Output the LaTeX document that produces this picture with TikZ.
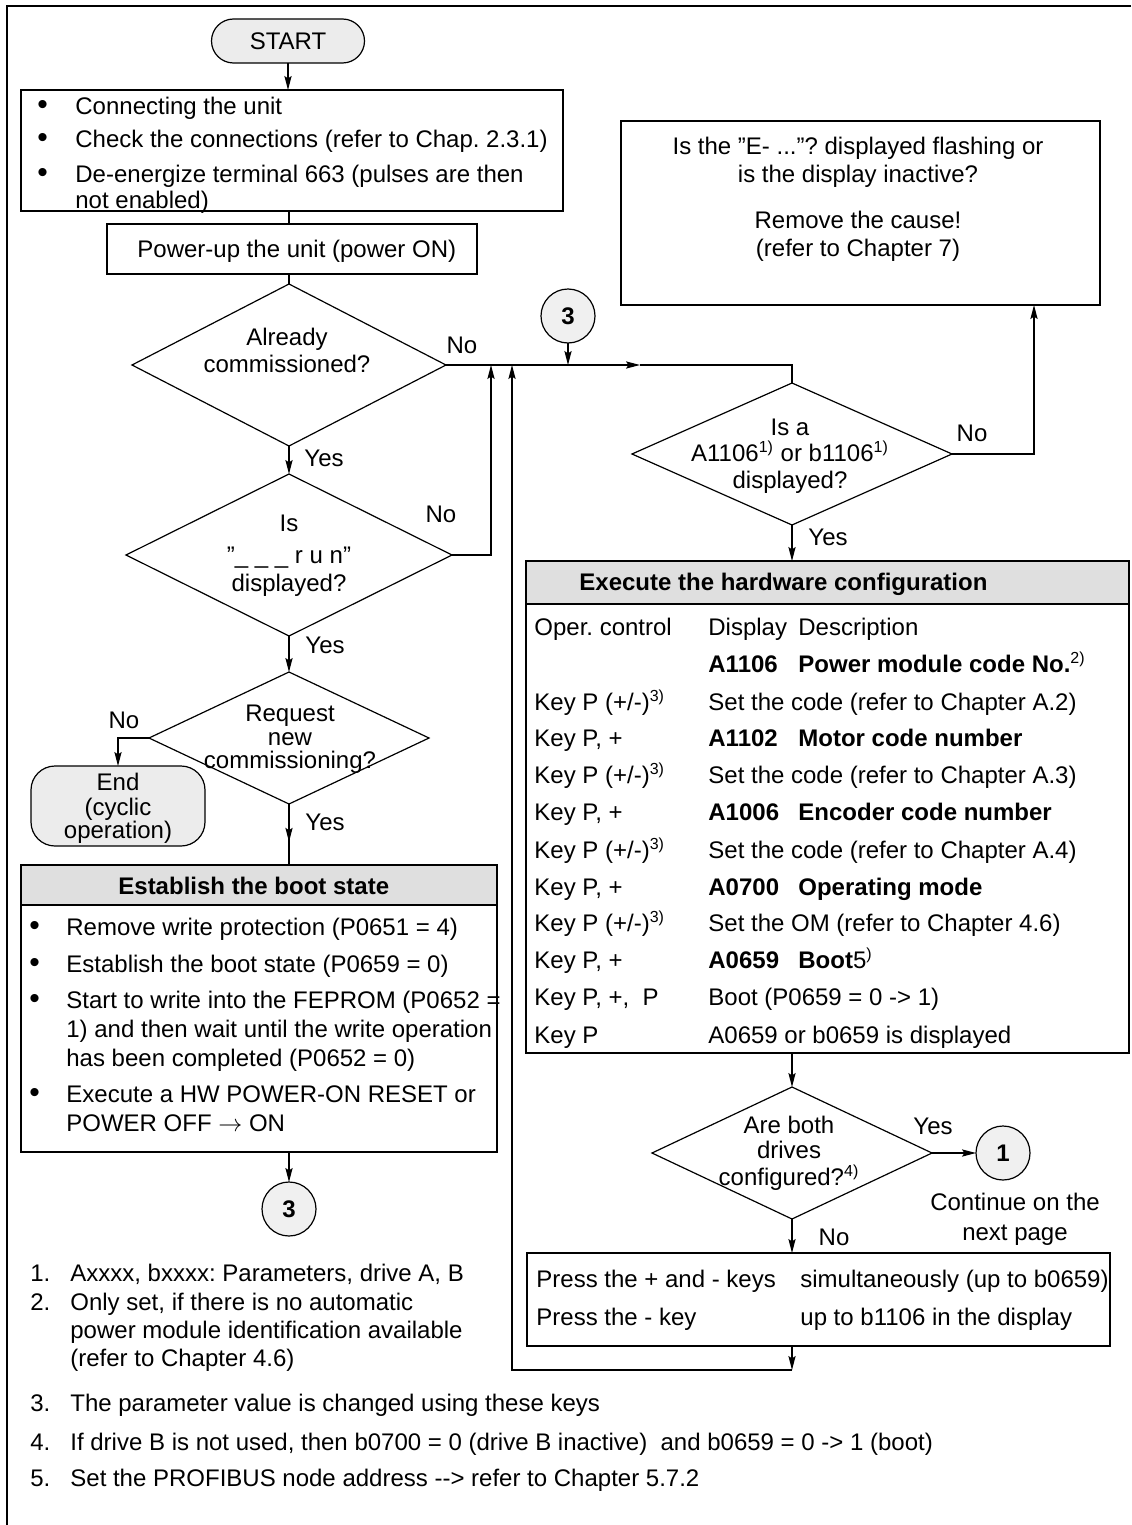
\documentclass[tikz,border=0pt]{standalone}
\usepackage{fontspec}
\setmainfont{Liberation Sans}
\usetikzlibrary{arrows.meta,shapes.geometric,decorations.markings}
\frenchspacing
\newcommand{\bul}{{\fontsize{15}{15}\selectfont\textbullet}}
\begin{document}
\begin{tikzpicture}[x=0.5pt,y=-0.5pt,
  every node/.style={font=\fontsize{12}{14}\selectfont},
  tip/.tip={Stealth[length=7pt,width=3.6pt,inset=1.2pt]},
  line/.style={line width=0.6pt},
  arr/.style={line width=0.6pt,-tip},
  arrowat/.style={line width=0.6pt,postaction={decorate},decoration={markings,mark=at position #1 with {\arrow{tip}}}},
  box/.style={draw,line width=0.6pt,rectangle,inner sep=0,outer sep=0},
  dia/.style={draw,line width=0.6pt,diamond,inner sep=0,outer sep=0},
  term/.style={draw,line width=0.6pt,rounded corners=11pt,fill=gray!15,inner sep=0,outer sep=0},
  circ/.style={draw,line width=0.6pt,circle,fill=gray!12,minimum size=27pt,inner sep=0,outer sep=0,font=\fontsize{12}{14}\selectfont\bfseries},
  lt/.style={inner sep=0,anchor=base west,yshift=-4pt},
  lc/.style={inner sep=0,anchor=base,yshift=-4pt}
]
\useasboundingbox (0,0) rectangle (1131,1525);
\draw[line width=1pt] (1131,6) -- (7,6) -- (7,1525);

% ---------- shapes ----------
\node[term,minimum width=76.5pt,minimum height=22pt] (start) at (288,41) {START};
\node[box,minimum width=271pt,minimum height=60.5pt] (box1) at (292,150.5) {};
\node[box,minimum width=185pt,minimum height=25pt] (box2) at (292,249) {};
\node[dia,minimum width=157pt,minimum height=81pt] (d1) at (289,365) {};
\node[dia,minimum width=163pt,minimum height=81pt] (run) at (289,555) {};
\node[dia,minimum width=140pt,minimum height=66pt] (req) at (289,738) {};
\node[term,rounded corners=12pt,minimum width=87pt,minimum height=40pt] (end) at (118,806) {};
\node[box,minimum width=238pt,minimum height=143.5pt] (boot) at (259,1008.5) {};
\node[box,fill=gray!25,minimum width=238pt,minimum height=20pt] (bh) at (259,885) {};
\node[circ] (c3b) at (289,1209) {3};
\node[circ] (c3a) at (568,316) {3};
\node[box,minimum width=239.5pt,minimum height=92pt] (remove) at (860.5,213) {};
\node[dia,minimum width=160pt,minimum height=71pt] (d2) at (792,454) {};
\node[box,minimum width=301.5pt,minimum height=246pt] (table) at (827.5,807) {};
\node[box,fill=gray!25,minimum width=301.5pt,minimum height=21.5pt] (th) at (827.5,582.5) {};
\node[dia,minimum width=140pt,minimum height=66pt] (d4) at (792,1153) {};
\node[circ] (c1) at (1003,1153) {1};
\node[box,minimum width=291.5pt,minimum height=46.5pt] (press) at (818.5,1299.5) {};

% ---------- coordinates ----------
\coordinate (j1) at (640,365);
\coordinate (runup) at (491,365);
\coordinate (loopup) at (512,365);
\coordinate (loopdn) at (792,1370);
\coordinate (rmup) at (1034,305);

% ---------- connectors ----------
\draw[arr] (start.south) -- (start.south |- box1.north);
\draw[line] (box1.south -| d1.north) -- (box2.north -| d1.north);
\draw[line] (box2.south -| d1.north) -- (d1.north);
\draw[arr] (d1.south) -- (run.north);
\draw[arr] (run.south) -- (req.north);
\draw[arr] (req.west) -| (end.north);
\draw[arrowat=0.62] (req.south) -- (req.south |- bh.north);
\draw[arr] (boot.south -| c3b.north) -- (c3b.north);
\draw[arr] (d1.east) -- (j1);
\draw[line] (j1) -- (d2.north |- d1.east) -- (d2.north);
\draw[arr] (c3a.south) -- (c3a.south |- d1.east);
\draw[arr] (run.east) -| (runup);
\draw[arr] (d2.east) -| (rmup);
\draw[arr] (d2.south) -- (d2.south |- th.north);
\draw[arr] (table.south -| d2.south) -- (d4.north);
\draw[arr] (d4.east) -- (c1.west);
\draw[arr] (d4.south) -- (d4.south |- press.north);
\draw[arr] (press.south -| d4.south) -- (loopdn);
\draw[arr] (loopdn) -| (loopup);

% ---------- box 1 ----------
\node[lt] (b1a) at (37,106) {\bul};
\node[lt] (b1at) at (75,106) {Connecting the unit};
\node[lt] (b1b) at (37,140) {\bul};
\node[lt] (b1bt) at (75,140) {Check the connections (refer to Chap. 2.3.1)};
\node[lt] (b1c) at (37,175) {\bul};
\node[lt] (b1ct) at (75,175) {De-energize terminal 663 (pulses are then};
\node[lt] (b1dt) at (75,200) {not enabled)};
\node[lt] (b2t) at (137,249) {Power-up the unit (power ON)};

% ---------- diamond texts ----------
\node[lc] (d1a) at (287,337) {Already};
\node[lc] (d1b) at (287,364) {commissioned?};
\node[lc] (runa) at (289,523) {Is};
\node[lc] (runb) at (289,555) {”\_ \_ \_ r u n”};
\node[lc] (runc) at (289,583) {displayed?};
\node[lc] (reqa) at (290,713) {Request};
\node[lc] (reqb) at (290,737) {new};
\node[lc] (reqc) at (290,760) {commissioning?};
\node[lc] (enda) at (118,782) {End};
\node[lc] (endb) at (118,807) {(cyclic};
\node[lc] (endc) at (118,830) {operation)};
\node[lc] (d2a) at (790,427) {Is a};
\node[lc] (d2b) at (790,453) {A1106\textsuperscript{1)} or b1106\textsuperscript{1)}};
\node[lc] (d2c) at (790,480) {displayed?};
\node[lc] (d4a) at (789,1125) {Are both};
\node[lc] (d4b) at (789,1150) {drives};
\node[lc] (d4c) at (789,1177) {configured?\textsuperscript{4)}};
\node[lc] (conta) at (1015,1202) {Continue on the};
\node[lc] (contb) at (1015,1232) {next page};

% ---------- yes / no labels ----------
\node[lc] (l1) at (462,345) {No};
\node[lc] (l2) at (324,458) {Yes};
\node[lc] (l3) at (441,514) {No};
\node[lc] (l4) at (325,645) {Yes};
\node[lc] (l5) at (124,720) {No};
\node[lc] (l6) at (325,822) {Yes};
\node[lc] (l7) at (972,433) {No};
\node[lc] (l8) at (828,537) {Yes};
\node[lc] (l9) at (933,1126) {Yes};
\node[lc] (l10) at (834,1237) {No};

% ---------- remove box ----------
\node[lc] (rma) at (858,147) {Is the ”E- ...”? displayed flashing or};
\node[lc] (rmb) at (858,175) {is the display inactive?};
\node[lc] (rmc) at (858,220) {Remove the cause!};
\node[lc] (rmd) at (858,248) {(refer to Chapter 7)};

% ---------- hardware table ----------
\node[lt,font=\fontsize{12}{14}\selectfont\bfseries] (tht) at (579,582) {Execute the hardware configuration};
\node[lt] (r1a) at (534,627) {Oper. control};
\node[lt] (r1b) at (708,627) {Display};
\node[lt] (r1c) at (798,627) {Description};
\node[lt] (r2b) at (708,664) {\textbf{A1106}};
\node[lt] (r2c) at (798,664) {\textbf{Power module code No.}\textsuperscript{2)}};
\node[lt] (r3a) at (534,702) {Key P (+/-)\textsuperscript{3)}};
\node[lt] (r3b) at (708,702) {Set the code (refer to Chapter A.2)};
\node[lt] (r4a) at (534,738) {Key P, +};
\node[lt] (r4b) at (708,738) {\textbf{A1102}};
\node[lt] (r4c) at (798,738) {\textbf{Motor code number}};
\node[lt] (r5a) at (534,775) {Key P (+/-)\textsuperscript{3)}};
\node[lt] (r5b) at (708,775) {Set the code (refer to Chapter A.3)};
\node[lt] (r6a) at (534,812) {Key P, +};
\node[lt] (r6b) at (708,812) {\textbf{A1006}};
\node[lt] (r6c) at (798,812) {\textbf{Encoder code number}};
\node[lt] (r7a) at (534,850) {Key P (+/-)\textsuperscript{3)}};
\node[lt] (r7b) at (708,850) {Set the code (refer to Chapter A.4)};
\node[lt] (r8a) at (534,887) {Key P, +};
\node[lt] (r8b) at (708,887) {\textbf{A0700}};
\node[lt] (r8c) at (798,887) {\textbf{Operating mode}};
\node[lt] (r9a) at (534,923) {Key P (+/-)\textsuperscript{3)}};
\node[lt] (r9b) at (708,923) {Set the OM (refer to Chapter 4.6)};
\node[lt] (r10a) at (534,960) {Key P, +};
\node[lt] (r10b) at (708,960) {\textbf{A0659}};
\node[lt] (r10c) at (798,960) {\textbf{Boot}5\textsuperscript{)}};
\node[lt] (r11a) at (534,997) {Key P, +,\ \ P};
\node[lt] (r11b) at (708,997) {Boot (P0659 = 0 -> 1)};
\node[lt] (r12a) at (534,1035) {Key P};
\node[lt] (r12b) at (708,1035) {A0659 or b0659 is displayed};

% ---------- boot box ----------
\node[lt,font=\fontsize{12}{14}\selectfont\bfseries] (bht) at (118,886) {Establish the boot state};
\node[lt] (bb1) at (29,927) {\bul};
\node[lt] (bt1) at (66,927) {Remove write protection (P0651 = 4)};
\node[lt] (bb2) at (29,964) {\bul};
\node[lt] (bt2) at (66,964) {Establish the boot state (P0659 = 0)};
\node[lt] (bb3) at (29,1000) {\bul};
\node[lt] (bt3) at (66,1000) {Start to write into the FEPROM (P0652 =};
\node[lt] (bt4) at (66,1029) {1) and then wait until the write operation};
\node[lt] (bt5) at (66,1058) {has been completed (P0652 = 0)};
\node[lt] (bb4) at (29,1094) {\bul};
\node[lt] (bt6) at (66,1094) {Execute a HW POWER-ON RESET or};
\node[lt] (bt7) at (66,1123) {POWER OFF $\rightarrow$ ON};

% ---------- press box ----------
\node[lt] (p1a) at (536,1279) {Press the + and - keys};
\node[lt] (p1b) at (800,1279) {simultaneously (up to b0659)};
\node[lt] (p2a) at (536,1317) {Press the - key};
\node[lt] (p2b) at (800,1317) {up to b1106 in the display};

% ---------- footnotes ----------
\node[lt] (f1n) at (30,1273) {1.};
\node[lt] (f1) at (70,1273) {Axxxx, bxxxx: Parameters, drive A, B};
\node[lt] (f2n) at (30,1302) {2.};
\node[lt] (f2) at (70,1302) {Only set, if there is no automatic};
\node[lt] (f2b) at (70,1330) {power module identification available};
\node[lt] (f2c) at (70,1358) {(refer to Chapter 4.6)};
\node[lt] (f3n) at (30,1403) {3.};
\node[lt] (f3) at (70,1403) {The parameter value is changed using these keys};
\node[lt] (f4n) at (30,1442) {4.};
\node[lt] (f4) at (70,1442) {If drive B is not used, then b0700 = 0 (drive B inactive)\ \ and b0659 = 0 -> 1 (boot)};
\node[lt] (f5n) at (30,1478) {5.};
\node[lt] (f5) at (70,1478) {Set the PROFIBUS node address -{}-{}> refer to Chapter 5.7.2};
\end{tikzpicture}
\end{document}
